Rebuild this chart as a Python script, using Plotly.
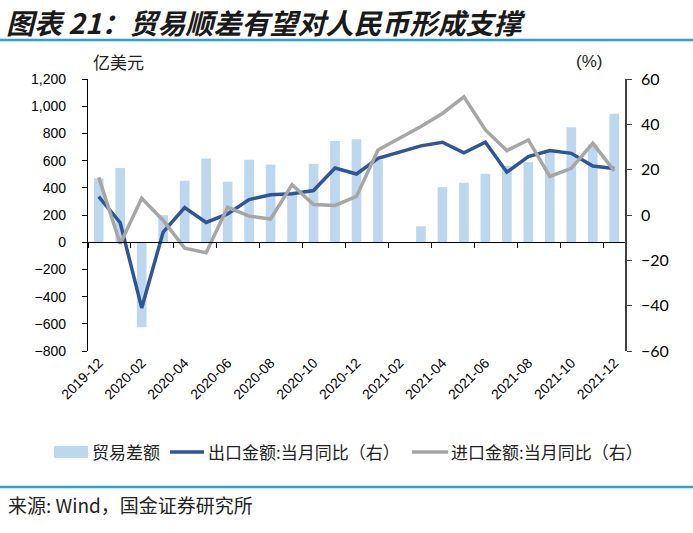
import plotly.graph_objects as go

# ---------------- data ----------------
months = ["2019-12", "2020-01", "2020-02", "2020-03", "2020-04", "2020-05", "2020-06",
          "2020-07", "2020-08", "2020-09", "2020-10", "2020-11", "2020-12", "2021-01",
          "2021-02", "2021-03", "2021-04", "2021-05", "2021-06", "2021-07", "2021-08",
          "2021-09", "2021-10", "2021-11", "2021-12"]
trade_balance = [470, 545, -625, 199, 452, 615, 445, 606, 571, 370, 576, 745, 757, 605,
                 None, 117, 405, 437, 503, 560, 588, 665, 845, 720, 944]
export_yoy = [8.1, -3.4, -41.0, -7.5, 3.3, -3.3, 0.5, 6.8, 8.9, 9.4, 10.8, 20.7, 18.1, 25.0,
              None, 30.5, 32.1, 27.4, 32.1, 18.9, 25.8, 28.4, 27.2, 21.6, 20.5]
import_yoy = [16.6, -12.7, 7.4, -2.4, -14.6, -16.6, 3.4, -0.5, -1.8, 13.4, 4.6, 4.2, 8.2, 28.7,
              None, 39.0, 44.8, 52.1, 37.5, 28.4, 33.1, 17.0, 20.6, 31.6, 19.5]
left_ticks = [-800, -600, -400, -200, 0, 200, 400, 600, 800, 1000, 1200]
right_ticks = [-60, -40, -20, 0, 20, 40, 60]
series_names = ["贸易差额", "出口金额:当月同比（右）", "进口金额:当月同比（右）"]

# ---------------- layout geometry (px) ----------------
W, H = 693, 533
L, R, T, B = 88, 68, 79, 182
PW, PH = W - L - R, H - T - B


def px_x(px):
    return (px - L) / PW


def px_y(py):
    return (H - B - py) / PH


idx = list(range(len(months)))
n = len(months)

BAR_C = "#bdd7ee"
BLUE = "#2f5597"
GRAY = "#a6a6a6"
CJK = "Noto Sans CJK SC"
SANS = "Liberation Sans, Arial"

fig = go.Figure()
fig.add_trace(go.Bar(x=idx, y=trade_balance, name=series_names[0], marker_color=BAR_C,
                     marker_line_width=0, xaxis="x", yaxis="y"))
fig.add_trace(go.Scatter(x=idx, y=export_yoy, name=series_names[1], mode="lines",
                         line=dict(color=BLUE, width=3.5), connectgaps=True,
                         xaxis="x2", yaxis="y2"))
fig.add_trace(go.Scatter(x=idx, y=import_yoy, name=series_names[2], mode="lines",
                         line=dict(color=GRAY, width=3.5), connectgaps=True,
                         xaxis="x2", yaxis="y2"))

ymin, ymax = left_ticks[0], left_ticks[-1]
zero_pos = (0 - ymin) / (ymax - ymin)

fig.update_layout(
    width=W, height=H,
    margin=dict(l=L, r=R, t=T, b=B, autoexpand=False),
    paper_bgcolor="white", plot_bgcolor="white",
    bargap=0.55,
    showlegend=False,
    xaxis=dict(range=[-0.5, n - 0.5], anchor="y", side="bottom",
               tickmode="array", tickvals=idx[::2], ticktext=months[::2],
               tickangle=-45, ticks="", showline=False, showgrid=False, zeroline=False,
               tickfont=dict(family=SANS, size=14, color="black")),
    xaxis2=dict(range=[-0.5, n - 0.5], overlaying="x", anchor="free", position=zero_pos,
                side="bottom", showline=True, linecolor="black", linewidth=1.2,
                tickmode="array", tickvals=[i - 0.5 for i in idx[::2]],
                ticks="outside", ticklen=5, tickcolor="black", tickwidth=1.2,
                showticklabels=False, showgrid=False, zeroline=False),
    yaxis=dict(range=[ymin, ymax], anchor="x", tickmode="array", tickvals=left_ticks,
               tickformat=",", showline=True, linecolor="black", linewidth=1.2,
               ticks="outside", ticklen=5, tickcolor="black", showgrid=False,
               zeroline=False, ticklabelstandoff=13,
               tickfont=dict(family=SANS, size=14, color="black")),
    yaxis2=dict(range=[right_ticks[0], right_ticks[-1]], overlaying="y", side="right",
                anchor="x", tickmode="array", tickvals=right_ticks,
                showline=True, linecolor="#404040", linewidth=1.5,
                ticks="outside", ticklen=5, tickcolor="#404040", showgrid=False,
                zeroline=False, ticklabelstandoff=6,
                tickfont=dict(family="Lato, " + SANS, size=16, color="black")),
)

annotations = [
    dict(text="<b><i>图表 21：贸易顺差有望对人民币形成支撑</i></b>", x=px_x(4), y=px_y(0),
         xanchor="left", yanchor="top", showarrow=False,
         font=dict(family=CJK, size=28, color="#1a1a1a")),
    dict(text="亿美元", x=px_x(91), y=px_y(61), xanchor="left", yanchor="middle",
         showarrow=False, font=dict(family=CJK, size=17, color="#222")),
    dict(text="(%)", x=px_x(574), y=px_y(61), xanchor="left", yanchor="middle",
         showarrow=False, font=dict(family=SANS, size=17, color="#222")),
    dict(text="来源: Wind，国金证券研究所", x=px_x(6), y=px_y(504), xanchor="left",
         yanchor="middle", showarrow=False, font=dict(family=CJK, size=19, color="#222")),
    # legend texts
    dict(text=series_names[0], x=px_x(90), y=px_y(451), xanchor="left", yanchor="middle",
         showarrow=False, font=dict(family=CJK, size=17, color="#222")),
    dict(text=series_names[1], x=px_x(206), y=px_y(451), xanchor="left", yanchor="middle",
         showarrow=False, font=dict(family=CJK, size=17, color="#222")),
    dict(text=series_names[2], x=px_x(449), y=px_y(451), xanchor="left", yanchor="middle",
         showarrow=False, font=dict(family=CJK, size=17, color="#222")),
]
for a in annotations:
    a.update(xref="paper", yref="paper")
fig.update_layout(annotations=annotations)

fig.update_layout(shapes=[
    dict(type="line", xref="paper", yref="paper", x0=px_x(0), x1=px_x(W), y0=px_y(40), y1=px_y(40),
         line=dict(color="#2aa0d8", width=2.5)),
    dict(type="line", xref="paper", yref="paper", x0=px_x(0), x1=px_x(W), y0=px_y(487), y1=px_y(487),
         line=dict(color="#2aa0d8", width=2.5)),
    # legend swatches
    dict(type="rect", xref="paper", yref="paper", x0=px_x(54), x1=px_x(88),
         y0=px_y(446), y1=px_y(458), fillcolor=BAR_C, line=dict(width=0)),
    dict(type="line", xref="paper", yref="paper", x0=px_x(170), x1=px_x(204),
         y0=px_y(452), y1=px_y(452), line=dict(color=BLUE, width=3.5)),
    dict(type="line", xref="paper", yref="paper", x0=px_x(412), x1=px_x(448),
         y0=px_y(452), y1=px_y(452), line=dict(color=GRAY, width=3.5)),
])

fig.write_html("out.html", config={"displayModeBar": False},
               post_script="document.body.style.margin='0';")
